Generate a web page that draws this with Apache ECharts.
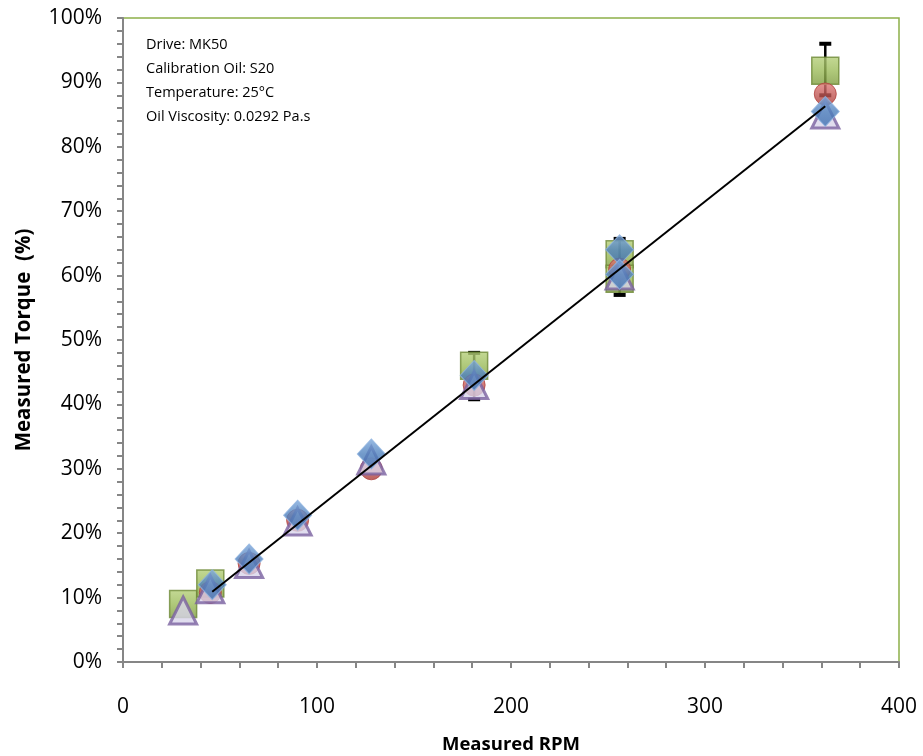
<!DOCTYPE html>
<html><head><meta charset="utf-8">
<script src="https://cdn.jsdelivr.net/npm/echarts@6/dist/echarts.min.js"></script>
<style>html,body{margin:0;padding:0;background:#fff}#c{width:923px;height:756px}</style>
</head><body><div id="c"></div>
<script>
// RPM / torque (%) readings
const greenPts = [[31, 9], [45, 12.2], [181, 46], [256, 63.3], [256, 59.5], [362, 91.8]];
const redPts = [[45, 10.8], [65, 15.3], [90, 22], [128, 30], [181, 43], [256, 61], [362, 88.2]];
const purplePts = [[31, 8], [45, 11.3], [65, 15.2], [90, 21.8], [128, 31.3], [181, 43], [256, 60], [362, 85]];
const bluePts = [[46, 12], [65, 16], [90, 22.8], [128, 32.3], [181, 44.5], [256, 64], [256, 60.2], [362, 85.5]];
const errBars = [[181, 40.8, 48], [256, 57, 65.7], [362, 88, 96]];
const trendLine = [[46, 10.9], [362, 86.3]];
const notes = ['Drive: MK50', 'Calibration Oil: S20', 'Temperature: 25°C', 'Oil Viscosity: 0.0292 Pa.s'];

const FONT = 'Open Sans';
const chart = echarts.init(document.getElementById('c'), null, {renderer: 'canvas'});
chart.setOption({
  animation: false,
  backgroundColor: '#fff',
  grid: {left: 123, right: 24, top: 18, bottom: 94, containLabel: false, outerBoundsMode: 'none', show: true, borderColor: '#8DB04A', borderWidth: 1.5, backgroundColor: 'transparent'},
  xAxis: {
    type: 'value', min: 0, max: 400, interval: 100,
    name: 'Measured RPM', nameLocation: 'middle', nameGap: 73,
    nameTextStyle: {fontFamily: FONT, fontSize: 18.5, fontWeight: 'bold', color: '#000'},
    axisLine: {show: true, lineStyle: {color: '#868686', width: 2}},
    axisTick: {show: true, length: 6, lineStyle: {color: '#868686', width: 2}},
    minorTick: {show: true, splitNumber: 5, length: 6, lineStyle: {color: '#868686', width: 2}},
    splitLine: {show: false},
    axisLabel: {margin: 35, fontFamily: FONT, fontSize: 21, color: '#000'}
  },
  yAxis: {
    type: 'value', min: 0, max: 100, interval: 10,
    name: 'Measured Torque  (%)', nameLocation: 'middle', nameGap: 88, nameRotate: 90,
    nameTextStyle: {fontFamily: FONT, fontSize: 20.5, fontWeight: 'bold', color: '#000'},
    axisLine: {show: true, lineStyle: {color: '#868686', width: 2}},
    axisTick: {show: true, length: 6, lineStyle: {color: '#868686', width: 2}},
    minorTick: {show: true, splitNumber: 5, length: 6, lineStyle: {color: '#868686', width: 2}},
    splitLine: {show: false},
    axisLabel: {margin: 21, fontFamily: FONT, fontSize: 21, color: '#000', formatter: v => v + '%'}
  },
  graphic: [{
    type: 'text', left: 146, top: 33,
    style: {text: notes.join('\n'), fontFamily: FONT, fontSize: 14.5, lineHeight: 24, fill: '#000'}
  }],
  series: [
    {
      type: 'custom', z: 1,
      renderItem: (params, api) => {
        const top = api.coord([api.value(0), api.value(2)]);
        const bot = api.coord([api.value(0), api.value(1)]);
        const style = {stroke: '#000', lineWidth: 2.5};
        return {type: 'group', children: [
          {type: 'line', shape: {x1: top[0], y1: top[1], x2: bot[0], y2: bot[1]}, style},
          {type: 'line', shape: {x1: top[0] - 6, y1: top[1], x2: top[0] + 6, y2: top[1]}, style: {stroke: '#000', lineWidth: 4}},
          {type: 'line', shape: {x1: bot[0] - 6, y1: bot[1], x2: bot[0] + 6, y2: bot[1]}, style: {stroke: '#000', lineWidth: 4}}
        ]};
      },
      data: errBars
    },
    {
      type: 'scatter', symbol: 'rect', symbolSize: 27, z: 2, data: greenPts,
      itemStyle: {color: new echarts.graphic.LinearGradient(0, 0, 0, 1, [{offset: 0, color: '#B5CF7A'}, {offset: 0.5, color: '#9BBB59'}, {offset: 1, color: '#7E9C3E'}]), borderColor: '#6E8A37', borderWidth: 1.5}
    },
    {
      type: 'scatter', symbol: 'circle', symbolSize: 22, z: 3, data: redPts,
      itemStyle: {color: new echarts.graphic.LinearGradient(0, 0, 0, 1, [{offset: 0, color: '#E07C79'}, {offset: 1, color: '#A93A37'}]), borderColor: '#B0413E', borderWidth: 1}
    },
    {
      type: 'scatter', symbol: 'triangle', symbolSize: 27, z: 4, data: purplePts,
      itemStyle: {color: '#D8D4EA', borderColor: '#7B62A0', borderWidth: 3}
    },
    {
      type: 'scatter', symbol: 'diamond', symbolSize: [28, 30], z: 5, data: bluePts,
      itemStyle: {color: new echarts.graphic.LinearGradient(0, 0, 0, 1, [{offset: 0, color: '#7FA9DC'}, {offset: 0.5, color: '#4F81BD'}, {offset: 1, color: '#3D6EB0'}]), borderColor: '#8FB3E0', borderWidth: 1}
    },
    {
      type: 'line', data: trendLine, symbol: 'none', z: 6,
      lineStyle: {color: '#000', width: 2}
    }
  ]
});
</script></body></html>
